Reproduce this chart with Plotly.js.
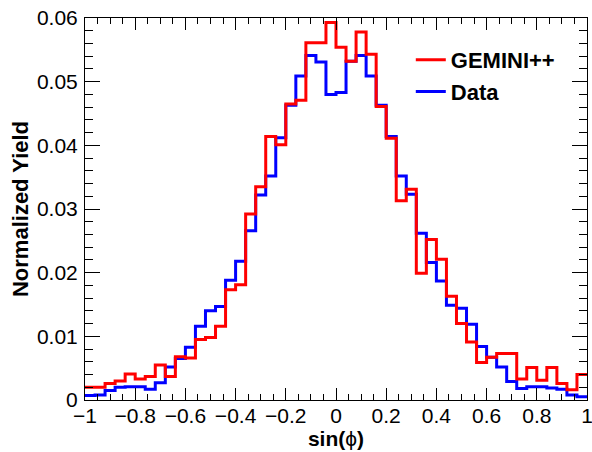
<!DOCTYPE html>
<html>
<head>
<meta charset="utf-8">
<script src="https://cdn.plot.ly/plotly-3.0.1.min.js"></script>
<style>html,body{margin:0;padding:0;background:#fff}#chart{width:592px;height:452px}</style>
</head>
<body>
<div id="chart"></div>
<script>
// 50 bins of width 0.04 from -1 to 1
const xMin = -1, xMax = 1, nBins = 50;
const seriesNames = ["GEMINI++", "Data"];
const geminiValues = [
  0.0020, 0.0020, 0.0026, 0.0030, 0.0041, 0.0033, 0.0037, 0.0055, 0.0037, 0.0068,
  0.0066, 0.0095, 0.0098, 0.0116, 0.0173, 0.0181, 0.0292, 0.0335, 0.0414, 0.0401,
  0.0465, 0.0471, 0.0561, 0.0561, 0.0593, 0.0554, 0.0532, 0.0578, 0.0543, 0.0461,
  0.0411, 0.0313, 0.0331, 0.0199, 0.0252, 0.0221, 0.0163, 0.0120, 0.0091, 0.0059,
  0.0067, 0.0073, 0.0073, 0.0033, 0.0051, 0.0031, 0.0051, 0.0026, 0.0016, 0.0040
];
const dataValues = [
  0.0007, 0.0008, 0.0015, 0.0020, 0.0021, 0.0021, 0.0017, 0.0027, 0.0052, 0.0065,
  0.0083, 0.0116, 0.0140, 0.0147, 0.0188, 0.0218, 0.0266, 0.0322, 0.0352, 0.0412,
  0.0463, 0.0509, 0.0541, 0.0531, 0.0480, 0.0483, 0.0532, 0.0541, 0.0509, 0.0463,
  0.0414, 0.0352, 0.0323, 0.0262, 0.0216, 0.0187, 0.0149, 0.0144, 0.0119, 0.0084,
  0.0067, 0.0052, 0.0029, 0.0018, 0.0021, 0.0021, 0.0019, 0.0017, 0.0008, 0.0005
];
const xTickVals = [-1, -0.8, -0.6, -0.4, -0.2, 0, 0.2, 0.4, 0.6, 0.8, 1];
const xTickText = ["\u22121", "\u22120.8", "\u22120.6", "\u22120.4", "\u22120.2", "0", "0.2", "0.4", "0.6", "0.8", "1"];
const yTickVals = [0, 0.01, 0.02, 0.03, 0.04, 0.05, 0.06];
const yTickText = ["0", "0.01", "0.02", "0.03", "0.04", "0.05", "0.06"];
const xTitle = "<b>sin(</b>\u03d5<b>)</b>";
const yTitle = "<b>Normalized Yield</b>";

function stepTrace(vals, name, color, rank) {
  const w = (xMax - xMin) / nBins;
  const xs = [], ys = [];
  for (let i = 0; i < vals.length; i++) { xs.push(xMin + i * w); ys.push(vals[i]); }
  xs.push(xMax); ys.push(vals[vals.length - 1]);
  return {
    type: "scatter", mode: "lines", x: xs, y: ys, name: name,
    line: {shape: "hv", color: color, width: 3},
    legendrank: rank
  };
}

const font = "Liberation Sans, Arial, Helvetica, sans-serif";
const traces = [
  stepTrace(dataValues, seriesNames[1], "#0000ff", 2),
  stepTrace(geminiValues, seriesNames[0], "#ff0000", 1)
];

const layout = {
  width: 592, height: 452,
  margin: {l: 85, r: 5, t: 18, b: 52},
  paper_bgcolor: "#fff", plot_bgcolor: "#fff",
  font: {family: font, color: "#000"},
  showlegend: true,
  legend: {
    x: 0.649, y: 0.945, xanchor: "left", yanchor: "top",
    bgcolor: "rgba(0,0,0,0)", borderwidth: 0,
    font: {family: font, size: 22, weight: "bold", color: "#000"},
    itemwidth: 30, tracegroupgap: 0
  },
  xaxis: {
    range: [xMin, xMax], tickmode: "array", tickvals: xTickVals, ticktext: xTickText,
    showgrid: false, zeroline: false,
    showline: true, linecolor: "#000", linewidth: 1, mirror: "allticks",
    ticks: "inside", ticklen: 12, tickcolor: "#000", tickwidth: 1,
    minor: {dtick: 0.05, tick0: -1, ticks: "inside", ticklen: 6, tickcolor: "#000", showgrid: false},
    tickfont: {family: font, size: 21, color: "#000"},
    ticklabelstandoff: -3, ticklabeloverflow: "allow",
    title: {text: xTitle, font: {family: font, size: 21, color: "#000"}, standoff: 0}
  },
  yaxis: {
    range: [0, 0.06], tickmode: "array", tickvals: yTickVals, ticktext: yTickText,
    showgrid: false, zeroline: false,
    showline: true, linecolor: "#000", linewidth: 1, mirror: "allticks",
    ticks: "inside", ticklen: 15, tickcolor: "#000", tickwidth: 1,
    minor: {dtick: 0.002, tick0: 0, ticks: "inside", ticklen: 8, tickcolor: "#000", showgrid: false},
    tickfont: {family: font, size: 21, color: "#000"},
    ticklabelstandoff: 2, ticklabeloverflow: "allow",
    title: {text: yTitle, font: {family: font, size: 22, color: "#000"}, standoff: 2}
  }
};

Plotly.newPlot("chart", traces, layout, {displayModeBar: false, staticPlot: true});
</script>
</body>
</html>
